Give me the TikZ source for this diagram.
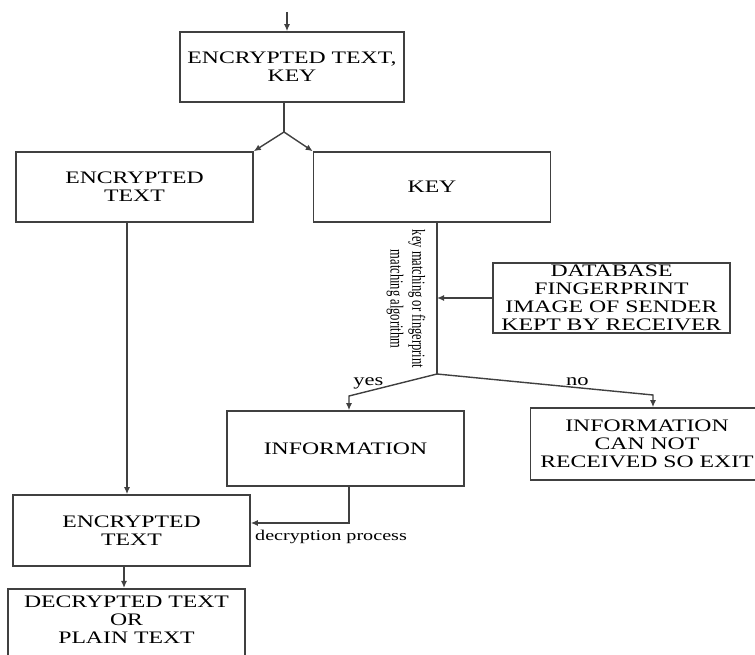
\documentclass[tikz,border=0pt]{standalone}
\usepackage{fontspec}
\setmainfont[FakeStretch=1.35]{Liberation Serif}
\newfontfamily\narrowfont[FakeStretch=0.68]{Liberation Serif}
\usetikzlibrary{arrows.meta,calc}
\tikzset{
  box/.style={draw=black!75, line width=0.9pt, rectangle, minimum width=4.74cm,
    minimum height=1.4cm, align=center, inner sep=1pt,
    font=\fontsize{10}{10.3}\selectfont},
  flow/.style={draw=black!75, line width=0.8pt},
  arr/.style={flow, -{Latex[length=4pt,width=3.5pt]}},
  lab/.style={font=\fontsize{9.5}{10}\selectfont, inner sep=1pt}
}

\begin{document}
\begin{tikzpicture}[x=0.02cm,y=-0.02cm]
\useasboundingbox (0,0) rectangle (755,655);
% boxes
\node[box,minimum width=4.48cm] (cipher) at (292,67) {ENCRYPTED TEXT,\\KEY};
\node[box] (enctext) at (134.5,187) {ENCRYPTED\\TEXT};
\node[box] (key) at (432,187) {KEY};
\node[box] (database) at (611.5,298) {DATABASE\\FINGERPRINT\\IMAGE OF SENDER\\KEPT BY RECEIVER};
\node[box,minimum height=1.5cm] (info) at (345.5,448.5) {INFORMATION};
\node[box,minimum height=1.44cm,minimum width=4.66cm] (exit) at (647,444) {INFORMATION\\CAN NOT\\RECEIVED SO EXIT};
\node[box,minimum height=1.42cm] (enctwo) at (131.5,530.5) {ENCRYPTED\\TEXT};
\node[box,anchor=north,inner ysep=4pt] (plain) at (126.5,588) {DECRYPTED TEXT\\OR\\PLAIN TEXT\rule[-30pt]{0pt}{0pt}};
% points
\coordinate (start) at (287,12);
\coordinate (split) at (284,132);
\coordinate (match) at (437,374);
% connectors
\draw[arr] (start) -- (start |- cipher.north);
\draw[flow] (split |- cipher.south) -- (split);
\draw[arr] (split) -- (enctext.north east);
\draw[arr] (split) -- (key.north west);
\draw[flow] (match |- key.south) -- (match);
\draw[arr] (database.west) -- (database.west -| match);
\draw[arr] (match) -- (349,396) node[lab,above,pos=0.78] (yes) {yes} -- (349,396 |- info.north);
\draw[arr] (match) -- (653,395) node[lab,above,pos=0.65] (no) {no} -- (653,395 |- exit.north);
\draw[arr] ([xshift=-0.15cm]enctext.south) -- ([xshift=-0.15cm]enctext.south |- enctwo.north);
\draw[arr] ([xshift=0.07cm]info.south) |- ([yshift=0.15cm]enctwo.east)
  node[lab,font=\fontsize{8.5}{9}\selectfont,anchor=north west,pos=0.99,yshift=-0.1cm] (decrypt) {decryption process};
\draw[arr] ([xshift=-0.15cm]enctwo.south) -- ([xshift=-0.15cm]enctwo.south |- plain.north);
% rotated label
\node[rotate=-90,align=center,font=\narrowfont\fontsize{10.5}{12.5}\selectfont] (algo) at (406,299)
  {key matching or fingerprint\\matching algorithm};
\end{tikzpicture}
\end{document}
